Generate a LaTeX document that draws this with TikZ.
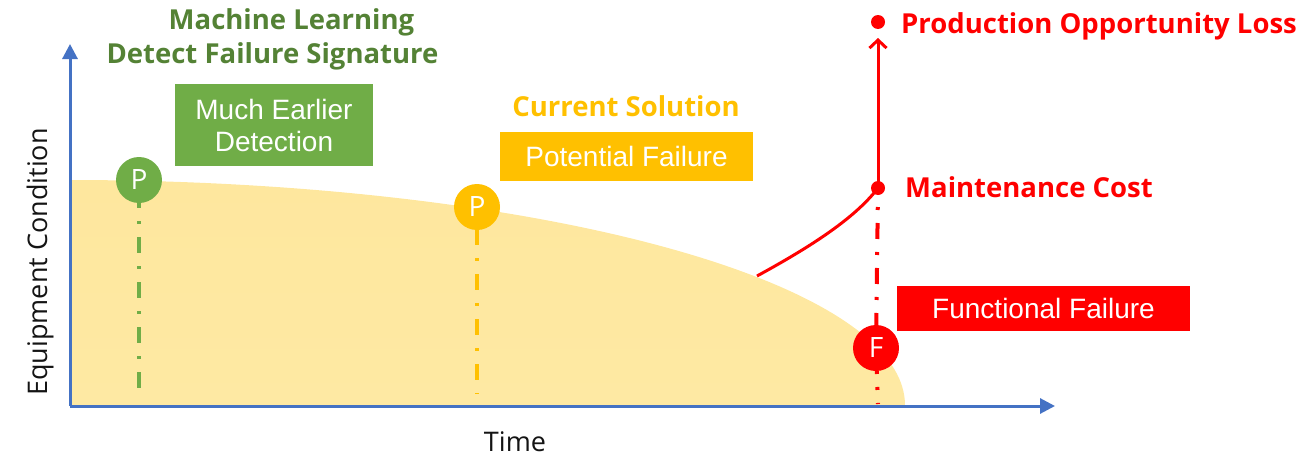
\documentclass[tikz,border=0pt]{standalone}
\usepackage{fontspec}
\setmainfont{Open Sans}
\newfontfamily\boxfont{Liberation Sans}
\usetikzlibrary{arrows.meta,backgrounds}
\definecolor{axisblue}{HTML}{4472C4}
\definecolor{mlgreen}{HTML}{70AD47}
\definecolor{titlegreen}{HTML}{548235}
\definecolor{curyellow}{HTML}{FFC000}
\definecolor{redc}{HTML}{FF0000}
\definecolor{fillmid}{RGB}{253,222,130}
\definecolor{filltop}{RGB}{254,231,158}
\definecolor{fillbot}{RGB}{254,233,163}
\definecolor{labelgray}{RGB}{20,20,20}
\tikzset{
  pcirc/.style={circle, minimum size=46pt, inner sep=0pt, text=white,
    font=\fontsize{28}{28}\selectfont},
  cbox/.style={rectangle, inner sep=0pt, text=white,
    font=\boxfont\fontsize{28}{32}\selectfont, align=center},
  ttl/.style={inner sep=0pt, anchor=base, font=\bfseries\fontsize{27.5}{30}\selectfont},
  ttlleft/.style={inner sep=0pt, anchor=base west, font=\bfseries\fontsize{27.5}{30}\selectfont},
  axisline/.style={draw=axisblue, line width=3pt, -{Triangle[width=15pt,length=15pt]}},
  dashdot/.style={line width=4pt, dash pattern=on 16pt off 13pt on 3pt off 13pt},
  dotline/.style={line width=4pt, dash pattern=on 3pt off 13pt},
  reddot/.style={circle, fill=redc, minimum size=14pt, inner sep=0pt},
  axlabel/.style={inner sep=0pt, text=labelgray, font=\fontsize{27}{30}\selectfont}
}
\begin{document}
\begin{tikzpicture}[x=1pt,y=-1pt]
\useasboundingbox (0,0) rectangle (1302,455);

% circles and markers
\node[pcirc, fill=mlgreen] (gp) at (139,180) {P};
\node[pcirc, fill=curyellow] (yp) at (477,207) {P};
\node[pcirc, fill=redc] (ff) at (876,348) {F};
\node[reddot] (mc) at (878,188) {};
\node[reddot] (pol) at (878,22) {};

\coordinate (gend) at (139,400);
\coordinate (yend) at (477,394);
\coordinate (rend) at (878,404);
\coordinate (curvestart) at (757,276);
\coordinate (arrtip) at (878,38);

\begin{scope}[on background layer]
  \shade[top color=filltop, middle color=fillmid, bottom color=fillbot]
    plot[domain=0:90, samples=80] ({70+835*cos(\x)},{405-225*sin(\x)})
    -- (70,405) -- cycle;
  \draw[dashdot, draw=mlgreen, dash phase=33pt] (gp.center) -- (gend);
  \draw[dashdot, draw=curyellow, dash phase=23pt] (yp.center) -- (yend);
  \draw[dashdot, draw=redc, dash phase=10pt] (mc.center) -- (ff.center);
  \draw[dotline, draw=redc, dash phase=9pt] (ff.center) -- (rend);
\end{scope}

% axes
\coordinate (origin) at (70,406);
\coordinate (ytip) at (70,44);
\coordinate (xtip) at (1055,406);
\draw[axisline] (origin) -- (ytip);
\draw[axisline] (origin) -- (xtip);

% red cost curve and arrow
\draw[redc, line width=3pt] (curvestart) .. controls (812,246) and (855,218) .. (mc.center);
\draw[redc, line width=3pt, -{Straight Barb[length=8pt,width=17pt,line width=3pt]}] (mc.center) -- (arrtip);

% boxes
\node[cbox, fill=mlgreen, minimum width=198pt, minimum height=82pt] (mlbox) at (274,125) {Much Earlier\\Detection};
\node[cbox, fill=curyellow, minimum width=253pt, minimum height=49pt] (pfbox) at (626.5,156.5) {Potential Failure};
\node[cbox, fill=redc, minimum width=293pt, minimum height=45pt] (ffbox) at (1043.5,308.5) {Functional Failure};

% titles
\node[ttl, text=titlegreen] (ml1) at (291.5,29) {Machine Learning};
\node[ttl, text=titlegreen] (ml2) at (272.5,63) {Detect Failure Signature};
\node[ttl, text=curyellow] (cs) at (626,116) {Current Solution};
\node[ttlleft, text=redc] (poltxt) at (901,33) {Production Opportunity Loss};
\node[ttlleft, text=redc] (mctxt) at (905,197) {Maintenance Cost};

% axis labels
\node[axlabel, anchor=base] (timel) at (515,451) {Time};
\node[axlabel, anchor=base, rotate=90] (eql) at (47,262) {Equipment Condition};
\end{tikzpicture}
\end{document}
